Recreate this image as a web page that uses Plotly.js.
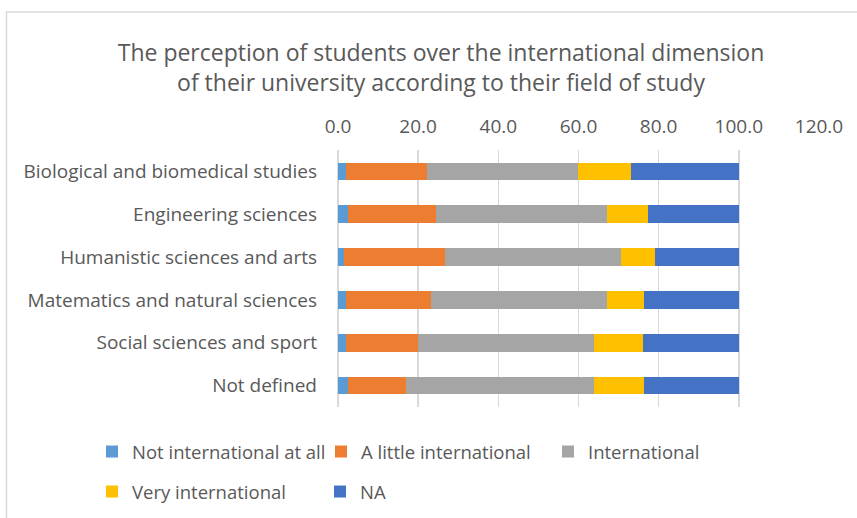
<!DOCTYPE html>
<html>
<head>
<meta charset="utf-8">
<script src="https://cdn.plot.ly/plotly-3.0.1.min.js"></script>
<style>
html,body{margin:0;padding:0;background:#fff;}
#chart{width:857px;height:518px;}
</style>
</head>
<body>
<div id="chart"></div>
<script>
// ---- data ----
const categories = [
  "Biological and biomedical studies",
  "Engineering sciences",
  "Humanistic sciences and arts",
  "Matematics and natural sciences",
  "Social sciences and sport",
  "Not defined"
];
const seriesNames = ["Not international at all", "A little international", "International", "Very international", "NA"];
const notInternational   = [2.1, 2.5, 1.6, 2.1, 2.1, 2.5];
const littleInternational = [20.0, 21.9, 25.1, 21.0, 17.9, 14.4];
const international      = [37.7, 42.6, 43.9, 43.9, 43.9, 46.9];
const veryInternational  = [13.4, 10.3, 8.5, 9.3, 12.2, 12.6];
const naValues           = [26.8, 22.7, 20.9, 23.7, 24.0, 23.6];
const xTickValues = [0, 20, 40, 60, 80, 100, 120];
const titleText = "The perception of students over the international dimension<br>of their university according to their field of study";

// ---- styling ----
const colors = ["#5B9BD5", "#ED7D31", "#A5A5A5", "#FFC000", "#4472C4"];
const FONT = "Open Sans, Liberation Sans, sans-serif";
const TXT = "#595959";
const W = 857, H = 518;
const margin = {l: 338, r: 38, t: 150, b: 111};

// legend slot positions (px): [left, centerY]
const legendIds = ["legend", "legend2", "legend3", "legend4", "legend5"];
const legendPos = [[92, 452], [321, 452], [548, 452], [92, 492], [320, 492]];

const allSeries = [notInternational, littleInternational, international, veryInternational, naValues];
const traces = allSeries.map((vals, i) => ({
  type: "bar",
  orientation: "h",
  name: seriesNames[i],
  y: categories,
  x: vals,
  marker: {color: colors[i], line: {width: 0}},
  legend: legendIds[i],
  hoverinfo: "x+name"
}));

const pw = W - margin.l - margin.r;
const ph = H - margin.t - margin.b;
const px2x = p => (p - margin.l) / pw;
const py2y = p => 1 - (p - margin.t) / ph;

const layout = {
  width: W, height: H,
  margin: margin,
  paper_bgcolor: "#fff",
  plot_bgcolor: "#fff",
  barmode: "stack",
  bargap: 0.59,
  title: {
    text: titleText,
    font: {family: FONT, size: 23, color: TXT},
    xref: "container", x: 441 / W, xanchor: "center",
    yref: "container", y: 1 - 61 / H, yanchor: "middle"
  },
  xaxis: {
    side: "top",
    range: [0, 120],
    tickvals: xTickValues,
    tickformat: ".1f",
    showgrid: true,
    gridcolor: "#D9D9D9",
    gridwidth: 1.5,
    zeroline: true,
    zerolinecolor: "#D9D9D9",
    zerolinewidth: 1.5,
    showline: false,
    ticks: "",
    ticklabelstandoff: 12,
    tickfont: {family: FONT, size: 19, color: TXT},
    fixedrange: true
  },
  yaxis: {
    autorange: "reversed",
    showgrid: false,
    zeroline: false,
    showline: false,
    ticks: "",
    ticklabelstandoff: 20,
    tickfont: {family: FONT, size: 19, color: TXT},
    fixedrange: true
  },
  showlegend: true,
  shapes: [{
    type: "rect", xref: "paper", yref: "paper", layer: "below",
    x0: px2x(6.5), x1: px2x(W + 5), y0: py2y(12), y1: py2y(H + 5),
    line: {color: "#D9D9D9", width: 1.5}, fillcolor: "rgba(0,0,0,0)"
  }]
};

legendIds.forEach((id, i) => {
  layout[id] = {
    orientation: "h",
    xref: "container", yref: "container",
    x: legendPos[i][0] / W, y: 1 - legendPos[i][1] / H,
    xanchor: "left", yanchor: "middle",
    font: {family: FONT, size: 18.5, color: TXT},
    bgcolor: "rgba(0,0,0,0)",
    itemclick: false, itemdoubleclick: false
  };
});

Plotly.newPlot("chart", traces, layout, {displayModeBar: false, staticPlot: true});
</script>
</body>
</html>
